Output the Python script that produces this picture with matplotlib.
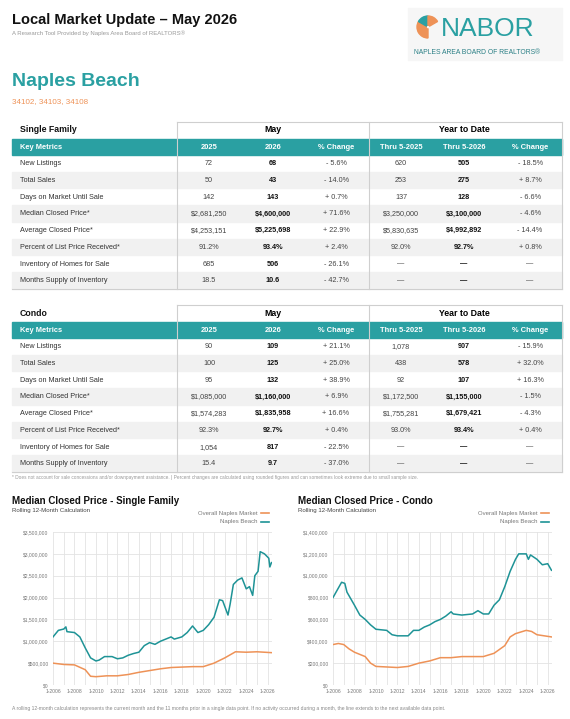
import matplotlib
matplotlib.use("Agg")
import matplotlib.pyplot as plt
from matplotlib.patches import Rectangle, Wedge
from matplotlib.ticker import FuncFormatter

plt.rcParams['font.family'] = ['Liberation Sans', 'DejaVu Sans']

TEAL = '#2aa0a2'
LINE_TEAL = '#1e9396'
ORANGE = '#ee9257'
VA = 'baseline'

metrics = ["New Listings", "Total Sales", "Days on Market Until Sale", "Median Closed Price*",
           "Average Closed Price*", "Percent of List Price Received*",
           "Inventory of Homes for Sale", "Months Supply of Inventory"]
col_heads = ["2025", "2026", "% Change", "Thru 5-2025", "Thru 5-2026", "% Change"]

sf_rows = [
    ["72", "68", "- 5.6%", "620", "505", "- 18.5%"],
    ["50", "43", "- 14.0%", "253", "275", "+ 8.7%"],
    ["142", "143", "+ 0.7%", "137", "128", "- 6.6%"],
    ["$2,681,250", "$4,600,000", "+ 71.6%", "$3,250,000", "$3,100,000", "- 4.6%"],
    ["$4,253,151", "$5,225,698", "+ 22.9%", "$5,830,635", "$4,992,892", "- 14.4%"],
    ["91.2%", "93.4%", "+ 2.4%", "92.0%", "92.7%", "+ 0.8%"],
    ["685", "506", "- 26.1%", "—", "—", "—"],
    ["18.5", "10.6", "- 42.7%", "—", "—", "—"],
]
condo_rows = [
    ["90", "109", "+ 21.1%", "1,078", "907", "- 15.9%"],
    ["100", "125", "+ 25.0%", "438", "578", "+ 32.0%"],
    ["95", "132", "+ 38.9%", "92", "107", "+ 16.3%"],
    ["$1,085,000", "$1,160,000", "+ 6.9%", "$1,172,500", "$1,155,000", "- 1.5%"],
    ["$1,574,283", "$1,835,958", "+ 16.6%", "$1,755,281", "$1,679,421", "- 4.3%"],
    ["92.3%", "92.7%", "+ 0.4%", "93.0%", "93.4%", "+ 0.4%"],
    ["1,054", "817", "- 22.5%", "—", "—", "—"],
    ["15.4", "9.7", "- 37.0%", "—", "—", "—"],
]

# Rolling 12-month median closed price series (year fraction, value in $M)
sf_beach_t = [2006.0, 2006.5, 2007.0, 2007.2, 2007.3, 2008.0, 2008.5, 2009.0, 2009.5, 2010.0, 2010.3,
              2010.8, 2011.5, 2012.0, 2012.5, 2013.0, 2013.5, 2014.0, 2014.5, 2015.0, 2015.5, 2016.0,
              2016.5, 2017.0, 2017.3, 2018.0, 2018.5, 2019.0, 2019.5, 2020.0, 2020.5, 2021.0, 2021.5,
              2021.8, 2022.3, 2022.5, 2022.8, 2023.2, 2023.6, 2024.0, 2024.3, 2024.6, 2024.8, 2025.1,
              2025.3, 2025.7, 2026.1, 2026.2, 2026.35]
sf_beach_v = [1.10, 1.25, 1.28, 1.33, 1.22, 1.20, 1.10, 0.85, 0.62, 0.55, 0.57,
              0.65, 0.65, 0.60, 0.62, 0.68, 0.72, 0.75, 0.90, 0.97, 0.93, 1.00,
              1.05, 1.10, 1.05, 1.10, 1.20, 1.35, 1.20, 1.25, 1.38, 1.55, 1.95,
              1.93, 1.60, 1.85, 2.30, 2.40, 2.45, 2.20, 2.25, 2.05, 2.50, 2.60,
              3.05, 3.00, 2.90, 2.70, 2.80]
sf_all_t = [2006.0, 2007.0, 2008.0, 2009.0, 2009.5, 2010.0, 2011.0, 2012.0, 2013.0, 2014.0, 2015.0,
            2016.0, 2017.0, 2018.0, 2019.0, 2020.0, 2021.0, 2022.0, 2023.0, 2024.0, 2025.0, 2026.35]
sf_all_v = [0.50, 0.47, 0.46, 0.35, 0.20, 0.19, 0.21, 0.21, 0.24, 0.29, 0.33,
            0.37, 0.40, 0.41, 0.42, 0.42, 0.50, 0.62, 0.76, 0.75, 0.76, 0.74]
co_beach_t = [2006.0, 2006.4, 2006.8, 2007.1, 2007.3, 2008.0, 2008.5, 2009.0, 2009.5, 2010.0, 2011.0,
              2011.5, 2012.0, 2013.0, 2013.5, 2014.0, 2014.5, 2015.0, 2015.5, 2016.0, 2016.5, 2017.0,
              2017.2, 2018.0, 2019.0, 2019.5, 2020.0, 2020.5, 2021.0, 2021.5, 2022.0, 2022.5, 2023.0,
              2023.3, 2024.0, 2024.2, 2024.4, 2025.0, 2025.5, 2026.0, 2026.35]
co_beach_v = [0.80, 0.87, 0.94, 0.93, 0.85, 0.73, 0.64, 0.60, 0.55, 0.51, 0.50,
              0.46, 0.45, 0.45, 0.50, 0.50, 0.53, 0.55, 0.58, 0.60, 0.63, 0.67,
              0.65, 0.64, 0.65, 0.68, 0.65, 0.65, 0.73, 0.78, 0.90, 1.04, 1.15,
              1.20, 1.20, 1.15, 1.19, 1.15, 1.10, 1.11, 1.05]
co_all_t = [2006.0, 2006.5, 2007.0, 2007.5, 2008.0, 2009.0, 2009.5, 2010.0, 2011.0, 2012.0, 2013.0,
            2014.0, 2015.0, 2016.0, 2017.0, 2018.0, 2019.0, 2020.0, 2021.0, 2022.0, 2022.5, 2023.0,
            2024.0, 2024.5, 2025.0, 2026.35]
co_all_v = [0.37, 0.38, 0.37, 0.33, 0.30, 0.26, 0.20, 0.17, 0.165, 0.16, 0.17,
            0.20, 0.22, 0.25, 0.25, 0.26, 0.26, 0.26, 0.29, 0.36, 0.44, 0.47,
            0.50, 0.49, 0.46, 0.44]

W, H = 570, 719
fig = plt.figure(figsize=(W / 100, H / 100), dpi=100)
fig.patch.set_facecolor('white')
ax = fig.add_axes([0, 0, 1, 1])
ax.set_xlim(0, W)
ax.set_ylim(H, 0)
ax.axis('off')

# Header
ax.text(12, 24, "Local Market Update – May 2026", fontsize=10.5, fontweight='bold', va=VA, color='#111')
ax.text(12, 35, "A Research Tool Provided by Naples Area Board of REALTORS®", fontsize=4.3, va=VA, color='#999')
ax.add_patch(Rectangle((408, 8), 154, 52, color='#f6f6f6', zorder=0))
for a1, a2, c in [(90, 150, ORANGE), (150, 210, ORANGE), (210, 270, TEAL), (270, 330, ORANGE)]:
    ax.add_patch(Wedge((428, 27), 11, a1, a2, width=9, color=c, zorder=1))
ax.text(441, 36, "NABOR", fontsize=19, color=TEAL, va='baseline')
ax.text(414, 54, "NAPLES AREA BOARD OF REALTORS®", fontsize=4.9, color='#2a7f85', va=VA)
ax.text(12, 86, "Naples Beach", fontsize=14, fontweight='bold', color=TEAL, va=VA)
ax.text(12, 103, "34102, 34103, 34108", fontsize=5.8, color=ORANGE, va=VA)

col_x = [209, 273, 336, 401, 464, 530]


def draw_table(top, title, rows):
    ax.text(20, top + 2.5, title, fontsize=6.3, fontweight='bold', va=VA, color='#111')
    ax.text(273, top + 2.5, "May", fontsize=6.3, fontweight='bold', va=VA, ha='center')
    ax.text(464, top + 2.5, "Year to Date", fontsize=6.3, fontweight='bold', va=VA, ha='center')
    band_y = top + 9
    rh = 16.7
    ax.add_patch(Rectangle((12, band_y), 550, 16, color=TEAL, zorder=1))
    ax.text(20, band_y + 10, "Key Metrics", fontsize=5.4, fontweight='bold', color='white', va=VA, zorder=3)
    for x, h in zip(col_x, col_heads):
        ax.text(x, band_y + 10, h, fontsize=5.4, fontweight='bold', color='white', va=VA, ha='center', zorder=3)
    y0 = band_y + 16
    for i, (m, r) in enumerate(zip(metrics, rows)):
        yb = y0 + rh * i + rh / 2 + 2
        if i % 2 == 1:
            ax.add_patch(Rectangle((12, y0 + rh * i), 550, rh, color='#f1f1f1', zorder=0))
        ax.text(20, yb, m, fontsize=5.2, color='#333', va=VA)
        for j, (x, v) in enumerate(zip(col_x, r)):
            bold = j in (1, 4)
            ax.text(x, yb, v, fontsize=5.2, color='#111' if bold else '#444',
                    fontweight='bold' if bold else 'normal', va=VA, ha='center')
    bottom = y0 + rh * len(rows)
    for x in (177, 369):
        ax.plot([x, x], [top - 8, bottom], color='#cfcfcf', lw=0.8)
    ax.plot([177, 562], [top - 8, top - 8], color='#cfcfcf', lw=0.8)
    ax.plot([562, 562], [top - 8, bottom], color='#cfcfcf', lw=0.8)
    ax.plot([12, 562], [bottom, bottom], color='#cfcfcf', lw=0.8)


draw_table(130, "Single Family", sf_rows)
draw_table(313, "Condo", condo_rows)
ax.text(12, 479, "* Does not account for sale concessions and/or downpayment assistance. | Percent changes are calculated using "
        "rounded figures and can sometimes look extreme due to small sample size.", fontsize=3.4, color='#999', va=VA)
ax.text(12, 710, "A rolling 12-month calculation represents the current month and the 11 months prior in a single data point. "
        "If no activity occurred during a month, the line extends to the next available data point.",
        fontsize=3.6, color='#888', va=VA)


def chart(x0, x1, title, bt, bv, at, av, ymax, step, tx):
    ax.text(tx, 504, title, fontsize=7, fontweight='bold', va=VA, color='#111')
    ax.text(tx, 512, "Rolling 12-Month Calculation", fontsize=4.4, va=VA, color='#444')
    ax.text(x1 - 14, 514.5, "Overall Naples Market", fontsize=4.3, va=VA, ha='right', color='#777')
    ax.plot([x1 - 11, x1 - 3], [513, 513], color=ORANGE, lw=1.2)
    ax.text(x1 - 14, 523.5, "Naples Beach", fontsize=4.3, va=VA, ha='right', color='#777')
    ax.plot([x1 - 11, x1 - 3], [522, 522], color=LINE_TEAL, lw=1.2)
    top, bot = 532, 685
    c = fig.add_axes([x0 / W, 1 - bot / H, (x1 - x0) / W, (bot - top) / H])
    c.plot(at, [v * 1e6 for v in av], color=ORANGE, lw=1.1)
    c.plot(bt, [v * 1e6 for v in bv], color=LINE_TEAL, lw=1.1)
    c.set_xlim(2006, 2026.4)
    c.set_ylim(0, ymax)
    c.set_xticks(range(2006, 2027, 2))
    c.set_xticks(range(2006, 2027), minor=True)
    c.set_xticklabels([f"1-{y}" for y in range(2006, 2027, 2)])
    c.set_yticks([i * step for i in range(int(ymax / step) + 1)])
    c.yaxis.set_major_formatter(FuncFormatter(lambda v, p: f"${v:,.0f}"))
    c.grid(True, which='both', color='#e3e3e3', lw=0.6)
    c.tick_params(labelsize=3.6, labelcolor='#777', length=0, pad=3, which='both')
    for s in c.spines.values():
        s.set_visible(False)
    c.set_axisbelow(True)


chart(53, 272, "Median Closed Price - Single Family", sf_beach_t, sf_beach_v, sf_all_t, sf_all_v,
      3.5e6, 5e5, 12)
chart(333, 552, "Median Closed Price - Condo", co_beach_t, co_beach_v, co_all_t, co_all_v,
      1.4e6, 2e5, 298)

fig.savefig("out.png", dpi=100)
